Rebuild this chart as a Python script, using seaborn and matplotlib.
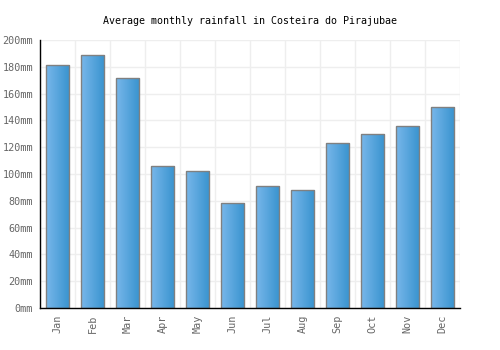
import matplotlib
matplotlib.use("Agg")
import matplotlib.pyplot as plt
import numpy as np
import pandas as pd
import seaborn as sns
from matplotlib.colors import LinearSegmentedColormap
from matplotlib.ticker import FuncFormatter, MultipleLocator

months = ["Jan", "Feb", "Mar", "Apr", "May", "Jun", "Jul", "Aug", "Sep", "Oct", "Nov", "Dec"]
rainfall = [181, 189, 172, 106, 102, 78, 91, 88, 123, 130, 136, 150]
title = "Average monthly rainfall in Costeira do Pirajubae"

sns.set_style("white")
plt.rcParams["font.family"] = ["DejaVu Sans Mono"]

df = pd.DataFrame({"month": months, "rain": rainfall})

fig = plt.figure(figsize=(5, 3.5), dpi=100)
ax = fig.add_axes([0.08, 0.12, 0.84, 0.7657])

sns.barplot(data=df, x="month", y="rain", ax=ax, width=0.67,
            color="#4a9fd8", edgecolor="#808080", linewidth=1, zorder=3)

cmap = LinearSegmentedColormap.from_list("g", ["#78b7ea", "#3893cf"])
grad = np.linspace(0, 1, 64).reshape(1, -1)
for p in list(ax.patches):
    x0, y0 = p.get_x(), p.get_y()
    w, h = p.get_width(), p.get_height()
    im = ax.imshow(grad, cmap=cmap, aspect="auto", extent=(x0, x0 + w, y0, y0 + h),
                   zorder=3.5, interpolation="bilinear")
    im.set_clip_path(p)
    p.set_facecolor("none")
    p.set_zorder(4)

ax.set_xlim(-0.5, 11.5)
ax.set_ylim(0, 200)
ax.yaxis.set_major_locator(MultipleLocator(20))
ax.yaxis.set_major_formatter(FuncFormatter(lambda v, _: f"{int(v)}mm"))
ax.set_xticks(range(12))
ax.set_xticklabels(months, rotation=90)
ax.set_xticks(np.arange(-0.5, 12, 1), minor=True)
ax.grid(False)
ax.grid(axis="y", which="major", color="#eeeeee", linewidth=1, zorder=0)
ax.grid(axis="x", which="minor", color="#eeeeee", linewidth=1, zorder=0)
ax.tick_params(axis="both", which="both", length=0, labelsize=7.3, colors="#666666", pad=5)
ax.tick_params(axis="x", which="major", pad=5)
ax.set_xlabel("")
ax.set_ylabel("")
for s in ["top", "right"]:
    ax.spines[s].set_visible(False)
for s in ["left", "bottom"]:
    ax.spines[s].set_color("black")
    ax.spines[s].set_linewidth(1)
    ax.spines[s].set_zorder(5)

fig.text(0.5, 0.94, title, ha="center", va="center", fontsize=7.2, color="black")

fig.savefig("out.png", dpi=100)
